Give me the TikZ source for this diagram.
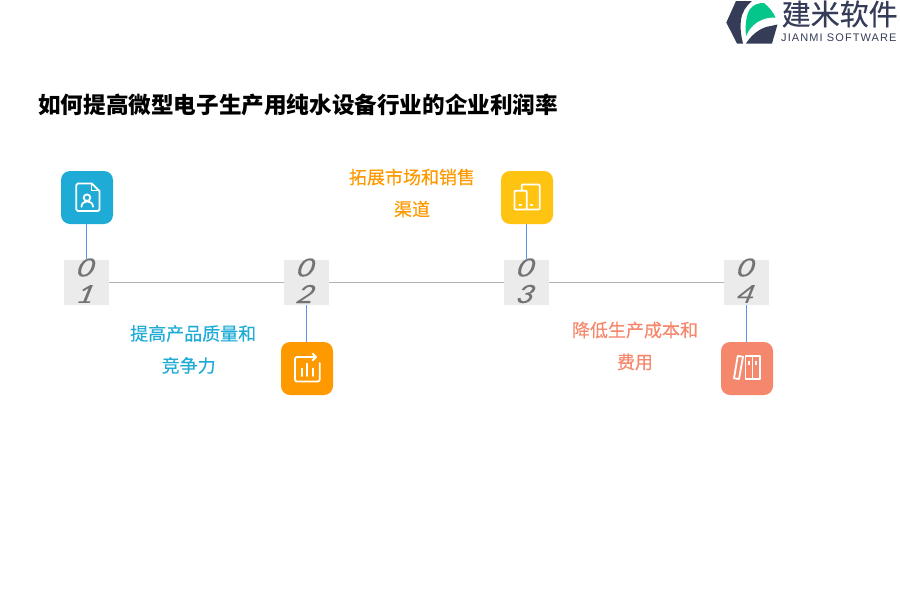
\documentclass[tikz,border=0pt]{standalone}
\usepackage{fontspec}
\setmainfont{Noto Sans CJK SC}
\newfontfamily\latinf{Liberation Sans}
\newfontfamily\digitf{Lato}
\definecolor{cblue}{HTML}{1EACD6}
\definecolor{corange}{HTML}{FF9900}
\definecolor{cyellow}{HTML}{FFC312}
\definecolor{csalmon}{HTML}{F5886C}
\definecolor{logod}{HTML}{343C58}
\definecolor{logog}{HTML}{05C68A}
\definecolor{stemc}{HTML}{5B93E6}
\tikzset{
  x=1pt,y=-1pt,
  iconbox/.style={rounded corners=9pt,minimum width=52pt,minimum height=53pt,inner sep=0pt,text width=0pt},
  numbox/.style={fill=black!8,minimum size=45pt,inner sep=0pt},
  digit/.style={font=\digitf\fontsize{25}{25}\selectfont\itshape\addfontfeature{FakeBold=0.15},text=black!55,inner sep=0pt,xslant=0.25,xscale=1.25},
  caption/.style={font=\fontsize{18}{32}\selectfont\addfontfeature{FakeBold=0.25},align=center,inner sep=0pt},
  spine/.style={draw=black!30,line width=0.9pt},
  stem/.style={draw=stemc,line width=1pt},
  glyph/.style={draw=white,line width=1.8pt,line join=round,line cap=round},
}
\begin{document}
\begin{tikzpicture}
\useasboundingbox (0,0) rectangle (900,600);
% title
\node[anchor=west,inner sep=0pt,font=\fontsize{22.6}{24}\selectfont\bfseries] (title) at (38,104.5) {如何提高微型电子生产用纯水设备行业的企业利润率};
% number boxes
\node[numbox] (n1) at (86.5,282.5) {};
\node[numbox] (n2) at (306.5,282.5) {};
\node[numbox] (n3) at (526.5,282.5) {};
\node[numbox] (n4) at (746.5,282.5) {};
\draw[spine] (n1) -- (n2);
\draw[spine] (n2) -- (n3);
\draw[spine] (n3) -- (n4);
\foreach \n/\d in {n1/1,n2/2,n3/3,n4/4}{
  \node[digit] (\n a) at ([yshift=15pt]\n.center) {0};
  \node[digit] (\n b) at ([yshift=-11.5pt]\n.center) {\d};
}
% icon boxes
\node[iconbox,fill=cblue] (i1) at (87,197.5) {};
\node[iconbox,fill=corange] (i2) at (307,368.5) {};
\node[iconbox,fill=cyellow] (i3) at (527,197.5) {};
\node[iconbox,fill=csalmon] (i4) at (747,368.5) {};
\coordinate (s1) at (86.5,224); \coordinate (s2) at (306.5,342);
\coordinate (s3) at (526.5,224); \coordinate (s4) at (746.5,342);
\draw[stem] (s1) -- (n1.north -| s1);
\draw[stem] (n2.south) -- (s2);
\draw[stem] (s3) -- (n3.north -| s3);
\draw[stem] (n4.south) -- (s4);
% captions
\node[caption,text=cblue,anchor=west] (c1a) at (130,333.5) {提高产品质量和};
\node[caption,text=cblue,anchor=west] (c1b) at (161.5,365.5) {竞争力};
\node[caption,text=corange] (c3) at (412,193) {拓展市场和销售\\渠道};
\node[caption,text=csalmon] (c4) at (635,346) {降低生产成本和\\费用};
% icon 1 : document with person
\draw[glyph,rounded corners=1.5pt] (91.7,183.5) -- (76.3,183.5) -- (76.3,211) -- (99.5,211) -- (99.5,191);
\draw[glyph] (91.7,183.5) -- (99.5,191);
\draw[glyph,line width=1.2pt] (91.7,184.5) -- (91.7,190.5) -- (98.5,190.5);
\draw[glyph] (87,197.7) circle (3.3);
\draw[glyph] (81.5,206.8) .. controls (81.5,199.5) and (93,199.5) .. (93,206.8);
% icon 2 : chart
\draw[glyph,rounded corners=2pt] (316,357) -- (295,357) -- (295,381.5) -- (319.7,381.5) -- (319.7,363);
\draw[glyph] (312.5,353.5) -- (316,357) -- (312.5,360.5);
\draw[glyph] (301.7,368.5) -- (301.7,376) (307.3,363.5) -- (307.3,376) (312.7,368.5) -- (312.7,376);
% icon 3 : devices
\draw[glyph,rounded corners=1pt] (521.7,190.5) -- (521.7,184.5) -- (539.7,184.5) -- (539.7,209.5) -- (526.7,209.5);
\draw[glyph,rounded corners=1pt] (514.5,190.7) rectangle (526.7,209.5);
\draw[glyph] (519.3,205) -- (521.3,205) (530.5,205) -- (532.5,205);
% icon 4 : books
\draw[glyph] (737.7,356) -- (743,356.7) -- (739,379) -- (734,378.3) -- cycle;
\draw[glyph] (745.5,356) rectangle (760,379.3);
\draw[glyph] (752.5,356) -- (752.5,379.3);
\draw[glyph,line width=1.4pt] (749,361.5) -- (749,364.5) (756,361.5) -- (756,364.5);
% logo
\fill[logod] (726.3,22.5) -- (736,1) -- (752,1) .. controls (746,6) and (742,12) .. (741,20) .. controls (740,28) and (741,36) .. (743,43.5) -- (737,43.5) -- cycle;
\fill[logog] (746,36) .. controls (745,26) and (746,15) .. (750,9) .. controls (754,4) and (759,3) .. (764,3) .. controls (769,7) and (773,12) .. (775.5,17.5) .. controls (762,17) and (751,24) .. (746,36) -- cycle;
\fill[logod] (746,43.5) .. controls (750,37) and (757,30) .. (766,27) -- (777.5,24.5) -- (772,43.5) -- cycle;
\node[anchor=west,inner sep=0pt,text=logod,font=\fontsize{29}{30}\selectfont\addfontfeature{FakeBold=0.4}] (logot) at (781.5,14) {建米软件};
\node[anchor=west,inner sep=0pt,text=logod,font=\latinf\fontsize{11}{12}\selectfont] (logos) at (781,38) {\addfontfeature{LetterSpace=10}JIANMI SOFTWARE};
\end{tikzpicture}
\end{document}
